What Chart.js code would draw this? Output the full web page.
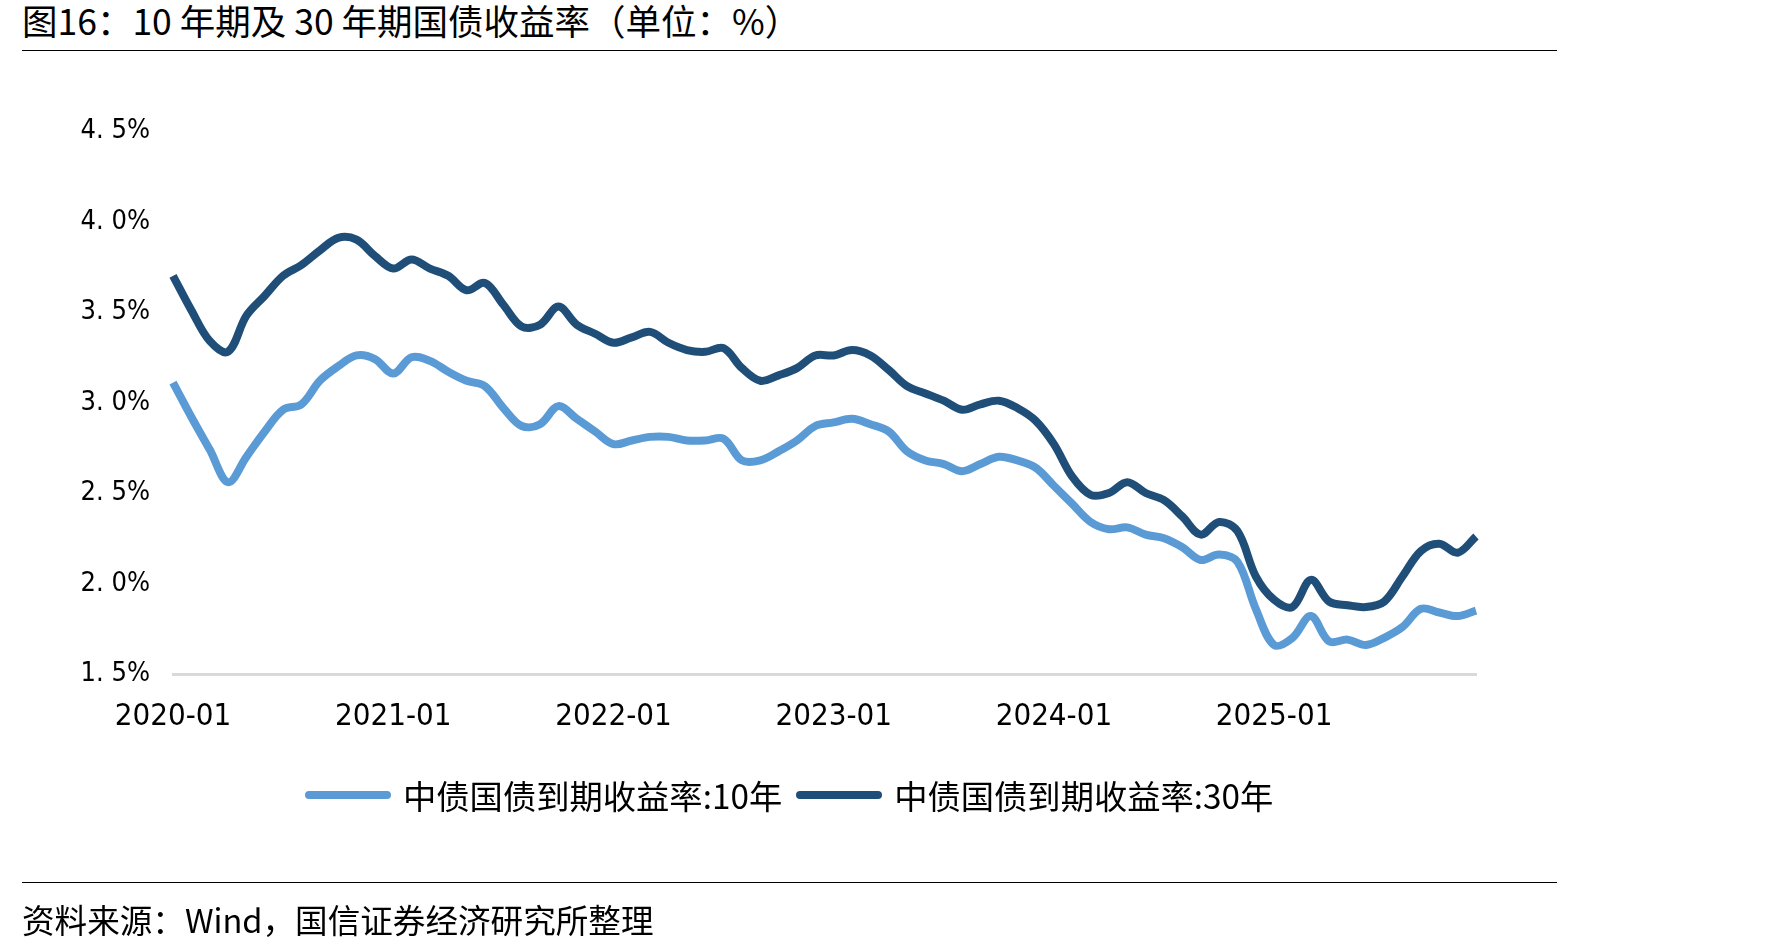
<!DOCTYPE html>
<html>
<head>
<meta charset="utf-8">
<script src="https://cdn.jsdelivr.net/npm/chart.js@4.4.1/dist/chart.umd.min.js"></script>
<style>
    html, body { margin: 0; padding: 0; background: #fff; }
    body { width: 1771px; height: 951px; position: relative; overflow: hidden; font-family: "Noto Sans CJK SC", sans-serif; color: #000; }
    #grafico { position: absolute; left: 0; top: 0; }
    .titulo { position: absolute; left: 22px; top: 1px; font-size: 35.5px; line-height: 38px; white-space: nowrap; }
    .linha { position: absolute; left: 22px; width: 1535px; height: 0; border-top: 1.5px solid #000; }
    .fonte { position: absolute; left: 22px; top: 901px; font-size: 32.6px; line-height: 36px; white-space: nowrap; }
    #legenda { position: absolute; left: 305px; top: 777px; height: 36px; display: flex; align-items: center; font-size: 33.3px; line-height: 36px; white-space: nowrap; }
    .item { display: flex; align-items: center; margin-right: 14px; }
    .amostra { display: inline-block; width: 86px; height: 8px; border-radius: 4px; margin-right: 12px; }
</style>
</head>
<body>
<div class="titulo">图16：10 年期及 30 年期国债收益率（单位：%）</div>
<div class="linha" style="top: 50px;"></div>
<canvas id="grafico" width="1771" height="951"></canvas>
<div id="legenda"></div>
<div class="linha" style="top: 882px;"></div>
<div class="fonte">资料来源：Wind，国信证券经济研究所整理</div>
<script>
    // meses 2020-01 .. 2025-12
    const meses = [
        '2020-01', '2020-02', '2020-03', '2020-04', '2020-05', '2020-06', '2020-07', '2020-08', '2020-09', '2020-10', '2020-11', '2020-12',
        '2021-01', '2021-02', '2021-03', '2021-04', '2021-05', '2021-06', '2021-07', '2021-08', '2021-09', '2021-10', '2021-11', '2021-12',
        '2022-01', '2022-02', '2022-03', '2022-04', '2022-05', '2022-06', '2022-07', '2022-08', '2022-09', '2022-10', '2022-11', '2022-12',
        '2023-01', '2023-02', '2023-03', '2023-04', '2023-05', '2023-06', '2023-07', '2023-08', '2023-09', '2023-10', '2023-11', '2023-12',
        '2024-01', '2024-02', '2024-03', '2024-04', '2024-05', '2024-06', '2024-07', '2024-08', '2024-09', '2024-10', '2024-11', '2024-12',
        '2025-01', '2025-02', '2025-03', '2025-04', '2025-05', '2025-06', '2025-07', '2025-08', '2025-09', '2025-10', '2025-11', '2025-12'
    ];

    const rendimento10 = [
        3.11, 2.92, 2.74, 2.56, 2.70, 2.84, 2.96, 2.99, 3.12, 3.20, 3.26, 3.24,
        3.16, 3.25, 3.23, 3.17, 3.12, 3.09, 2.97, 2.87, 2.88, 2.98, 2.91, 2.84,
        2.77, 2.79, 2.81, 2.81, 2.79, 2.79, 2.80, 2.68, 2.68, 2.73, 2.79, 2.87,
        2.89, 2.91, 2.88, 2.84, 2.73, 2.68, 2.66, 2.62, 2.66, 2.70, 2.68, 2.64,
        2.54, 2.44, 2.34, 2.30, 2.31, 2.27, 2.25, 2.20, 2.13, 2.16, 2.12, 1.86,
        1.66, 1.70, 1.82, 1.68, 1.69, 1.66, 1.70, 1.76, 1.86, 1.84, 1.82, 1.85
    ];

    const rendimento30 = [
        3.70, 3.51, 3.34, 3.28, 3.48, 3.59, 3.70, 3.76, 3.84, 3.91, 3.90, 3.81,
        3.74, 3.79, 3.74, 3.70, 3.62, 3.66, 3.54, 3.42, 3.43, 3.53, 3.43, 3.38,
        3.33, 3.36, 3.39, 3.33, 3.29, 3.28, 3.30, 3.19, 3.12, 3.15, 3.19, 3.26,
        3.26, 3.29, 3.26, 3.18, 3.09, 3.05, 3.01, 2.96, 2.99, 3.01, 2.97, 2.90,
        2.77, 2.59, 2.49, 2.50, 2.56, 2.50, 2.46, 2.37, 2.27, 2.34, 2.29, 2.04,
        1.91, 1.87, 2.02, 1.90, 1.88, 1.87, 1.90, 2.04, 2.18, 2.22, 2.17, 2.26
    ];

    const ticksY = [1.5, 2.0, 2.5, 3.0, 3.5, 4.0, 4.5];
    const rotulosY = ['1. 5%', '2. 0%', '2. 5%', '3. 0%', '3. 5%', '4. 0%', '4. 5%'];

    const nomes = ['中债国债到期收益率:10年', '中债国债到期收益率:30年'];
    const cores = ['#5B9BD5', '#1F4E79'];

    const fonteNumeros = '"Liberation Sans Narrow", "DejaVu Sans Condensed", sans-serif';

    const grafico = new Chart(document.getElementById('grafico'), {
        type: 'line',
        data: {
            labels: meses,
            datasets: [
                { label: nomes[0], data: rendimento10, borderColor: cores[0], backgroundColor: cores[0], borderWidth: 8, pointRadius: 0, tension: 0.35, borderJoinStyle: 'round' },
                { label: nomes[1], data: rendimento30, borderColor: cores[1], backgroundColor: cores[1], borderWidth: 8, pointRadius: 0, tension: 0.35, borderJoinStyle: 'round' }
            ]
        },
        options: {
            responsive: false,
            animation: false,
            layout: { padding: { left: 0, right: 295, top: 131, bottom: 0 } },
            plugins: {
                legend: { display: false },
                tooltip: { enabled: false }
            },
            scales: {
                x: {
                    type: 'category',
                    offset: false,
                    grid: { display: false, drawTicks: false },
                    border: { display: true, color: '#d9d9d9', width: 3 },
                    ticks: {
                        autoSkip: false,
                        maxRotation: 0,
                        padding: 24,
                        color: '#000',
                        font: { family: fonteNumeros, size: 31 },
                        callback: function (valor, indice) {
                            const m = meses[indice];
                            return m.endsWith('-01') ? m : null;
                        }
                    },
                    afterFit: function (escala) { escala.height = 277; }
                },
                y: {
                    min: 1.5,
                    max: 4.5,
                    grid: { display: false, drawTicks: false },
                    border: { display: false },
                    afterBuildTicks: function (escala) { escala.ticks = ticksY.map((v) => ({ value: v })); },
                    ticks: {
                        padding: 23,
                        color: '#000',
                        font: { family: fonteNumeros, size: 27 },
                        callback: function (valor) { return rotulosY[ticksY.indexOf(valor)]; }
                    },
                    afterFit: function (escala) { escala.width = 173; }
                }
            }
        }
    });

    const legenda = document.getElementById('legenda');
    grafico.data.datasets.forEach((ds) => {
        const item = document.createElement('div');
        item.className = 'item';
        const amostra = document.createElement('span');
        amostra.className = 'amostra';
        amostra.style.background = ds.borderColor;
        const texto = document.createElement('span');
        texto.textContent = ds.label;
        item.appendChild(amostra);
        item.appendChild(texto);
        legenda.appendChild(item);
    });
</script>
</body>
</html>
